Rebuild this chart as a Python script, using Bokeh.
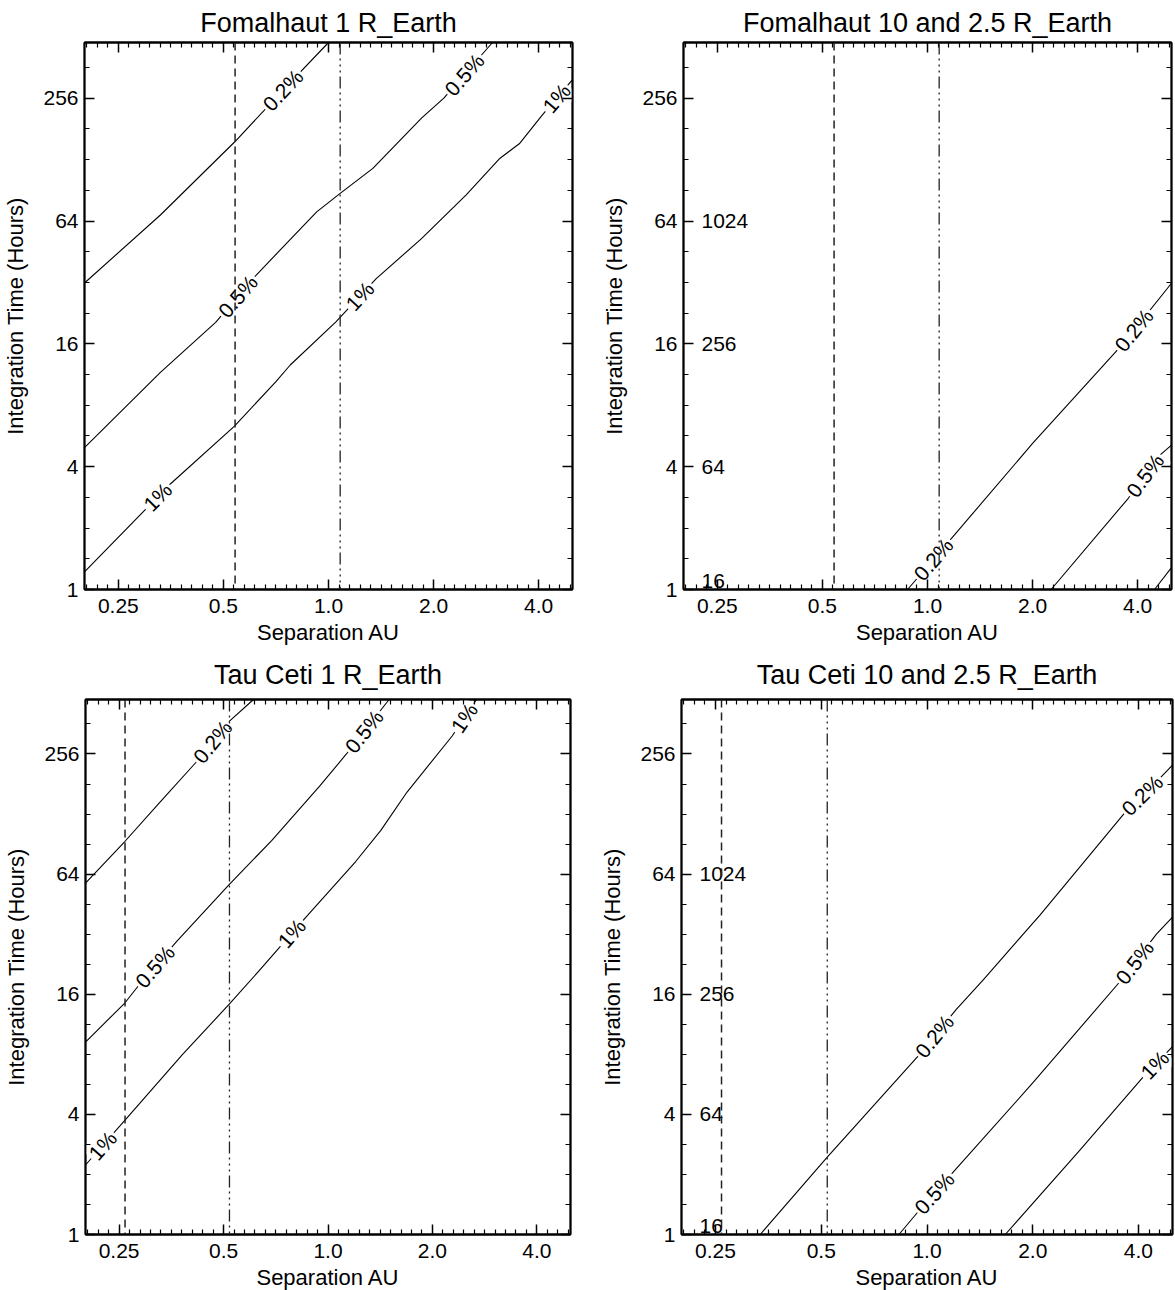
import numpy as np
from bokeh.plotting import figure
from bokeh.models import (Range1d, FixedTicker, CustomJSTickFormatter, LogAxis, Span,
                          CustomLabelingPolicy)
from bokeh.layouts import column, row
from bokeh.embed import file_html
from bokeh.resources import INLINE
from bokeh.core.properties import value

# ---------------- axes ----------------
x_ticks = [0.25, 0.5, 1.0, 2.0, 4.0]
y_ticks = [1, 4, 16, 64, 256]
x_min, x_max = 0.2, 5.0
y_min, y_max = 1.0, 480.0
x_title = "Separation AU"
y_title = "Integration Time (Hours)"

# secondary (10 R_Earth) time labels inside right-hand panels
sec_vals = [1, 4, 16, 64]
sec_labels = ["16", "64", "256", "1024"]

# ---------------- Fomalhaut 1 R_Earth ----------------
fom1_sep_02 = [0.20, 0.33, 0.54, 0.74, 1.00]
fom1_hrs_02 = [31.8, 68.5, 157, 280, 480]
fom1_sep_05 = [0.20, 0.33, 0.475, 0.62, 0.925, 1.08, 1.34, 1.85, 2.14, 2.95]
fom1_hrs_05 = [4.96, 11.6, 20.4, 34.7, 71, 87.5, 116, 205, 256, 480]
fom1_sep_1 = [0.20, 0.353, 0.537, 0.705, 0.777, 1.05, 1.37, 1.85, 2.48, 3.1, 3.52, 4.1, 5.0]
fom1_hrs_1 = [1.22, 3.3, 6.3, 10.4, 12.6, 20.5, 33.4, 52.6, 86, 130, 153, 212, 316]
fom1_lab_02 = [0.74]
fom1_lab_05 = [0.55, 2.45]
fom1_lab_1 = [0.324, 1.23, 4.5]

# ---------------- Fomalhaut 10 and 2.5 R_Earth ----------------
fom10_sep_02 = [0.877, 1.21, 2.0, 3.63, 5.0]
fom10_hrs_02 = [1.0, 1.9, 5.2, 16, 31.7]
fom10_sep_05 = [2.26, 3.76, 4.64, 5.0]
fom10_hrs_05 = [1.0, 2.8, 4.57, 5.1]
fom10_sep_1 = [4.47, 5.0]
fom10_hrs_1 = [1.0, 1.28]
fom10_lab_02 = [1.04, 3.9]
fom10_lab_05 = [4.2]
fom10_lab_1 = []

# ---------------- Tau Ceti 1 R_Earth ----------------
tau1_sep_02 = [0.20, 0.26, 0.328, 0.416, 0.52, 0.61]
tau1_hrs_02 = [57.6, 93.5, 147, 232, 374, 480]
tau1_sep_05 = [0.20, 0.26, 0.286, 0.367, 0.518, 0.689, 0.95, 1.13, 1.5]
tau1_hrs_05 = [9.2, 14.5, 17.9, 29.5, 56.5, 94.5, 178, 256, 480]
tau1_sep_1 = [0.20, 0.26, 0.381, 0.52, 0.627, 0.864, 1.2, 1.42, 1.69, 2.28, 2.68]
tau1_hrs_1 = [2.23, 3.74, 8.0, 14.3, 20.6, 39, 73.8, 106, 165, 315, 480]
tau1_lab_02 = [0.465]
tau1_lab_05 = [0.317, 1.27]
tau1_lab_1 = [0.224, 0.786, 2.47]

# ---------------- Tau Ceti 10 and 2.5 R_Earth ----------------
tau10_sep_02 = [0.335, 0.52, 0.96, 1.21, 1.45, 2.1, 3.71, 4.62, 5.0]
tau10_hrs_02 = [1.0, 2.44, 8.1, 13.4, 19.0, 40, 134, 195, 225]
tau10_sep_05 = [0.832, 0.96, 1.21, 2.0, 3.57, 4.5, 5.0]
tau10_hrs_05 = [1.0, 1.35, 2.13, 5.75, 18.8, 32, 39]
tau10_sep_1 = [1.67, 2.69, 4.14, 5.0]
tau10_hrs_1 = [1.0, 2.58, 6.2, 8.75]
tau10_lab_02 = [1.05, 4.1]
tau10_lab_05 = [1.05, 3.9]
tau10_lab_1 = [4.45]

# vertical reference separations
fom_inner, fom_outer = 0.54, 1.08
tau_inner, tau_outer = 0.26, 0.52

FONT = "Liberation Sans"
x_minor = [0.25 * 2 ** (k / 10) for k in range(-3, 44) if k % 10 != 0]
y_minor = [2 ** (k / 2) for k in range(1, 18) if k % 4 != 0]

xfmt = "return tick >= 1 ? tick.toFixed(1) : tick.toString();"
yfmt = "return tick.toFixed(0);"


def style_axis(ax, ticks, minor, fmt, show):
    ax.ticker = FixedTicker(ticks=ticks, minor_ticks=minor)
    ax.formatter = CustomJSTickFormatter(code=fmt)
    ax.major_tick_in = 10
    ax.major_tick_out = 0
    ax.minor_tick_in = 5
    ax.minor_tick_out = 0
    ax.axis_line_width = 1.8
    ax.axis_line_color = "black"
    ax.major_tick_line_width = 1.5
    ax.minor_tick_line_width = 1.2
    ax.major_tick_line_color = "black"
    ax.minor_tick_line_color = "black"
    ax.major_label_text_font = FONT
    ax.major_label_text_color = "black"
    if show:
        ax.major_label_text_font_size = "21px"
    else:
        ax.major_label_text_font_size = "0px"
        ax.major_label_policy = CustomLabelingPolicy(code="return [];")
        ax.major_label_standoff = 0
    ax.axis_label_text_font = FONT
    ax.axis_label_text_font_size = "22px"
    ax.axis_label_text_font_style = "normal"
    ax.axis_label_text_color = "black"


def make_panel(title, fw, fh, bl, bt, br, bb, tstand, inner, outer, contours, secondary):
    p = figure(x_axis_type="log", y_axis_type="log",
               x_range=Range1d(x_min, x_max), y_range=Range1d(y_min, y_max),
               frame_width=fw, frame_height=fh,
               min_border_left=bl, min_border_top=bt,
               min_border_right=br, min_border_bottom=bb,
               toolbar_location=None, output_backend="svg", title=title)
    p.xgrid.visible = False
    p.ygrid.visible = False
    p.outline_line_color = "black"
    p.outline_line_width = 1.8
    p.title.text_font = FONT
    p.title.text_font_size = "27px"
    p.title.text_font_style = "normal"
    p.title.text_color = "black"
    p.title.align = "center"
    p.title.standoff = tstand

    style_axis(p.xaxis[0], x_ticks, x_minor, xfmt, True)
    style_axis(p.yaxis[0], y_ticks, y_minor, yfmt, True)
    p.xaxis[0].axis_label = x_title
    p.yaxis[0].axis_label = y_title
    p.xaxis[0].major_label_standoff = 9
    p.xaxis[0].axis_label_standoff = 4
    p.yaxis[0].major_label_standoff = 6
    p.yaxis[0].axis_label_standoff = 12

    top = LogAxis()
    style_axis(top, x_ticks, x_minor, xfmt, False)
    p.add_layout(top, "above")
    right = LogAxis()
    style_axis(right, y_ticks, y_minor, yfmt, False)
    p.add_layout(right, "right")

    px = fw / np.log2(x_max / x_min)
    py = fh / np.log2(y_max / y_min)

    for sep, hrs, labs, txt in contours:
        p.line(sep, hrs, line_color="black", line_width=1.1, line_join="round")
        if not labs:
            continue
        lx = np.log2(sep)
        ly = np.log2(hrs)
        xs, ys, angs = [], [], []
        for xv in labs:
            l = np.log2(xv)
            y0 = np.interp(l - 0.12, lx, ly)
            y1 = np.interp(l + 0.12, lx, ly)
            slope = (y1 - y0) / 0.24
            xs.append(xv)
            ys.append(2 ** np.interp(l, lx, ly))
            angs.append(float(np.arctan2(slope * py, px)))
        p.text(x=xs, y=ys, text=[txt] * len(xs), angle=angs,
               text_align="center", text_baseline="middle",
               text_font=value(FONT), text_font_size="21px", text_color="black",
               background_fill_color="white", padding=2)

    if secondary:
        p.text(x=[x_min] * (len(sec_vals) - 1), y=sec_vals[1:], text=sec_labels[1:],
               x_offset=18, text_align="left", text_baseline="middle",
               text_font=value(FONT), text_font_size="21px", text_color="black")
        p.text(x=[x_min], y=sec_vals[:1], text=sec_labels[:1],
               x_offset=18, y_offset=-2, text_align="left", text_baseline="bottom",
               text_font=value(FONT), text_font_size="21px", text_color="black")

    p.add_layout(Span(location=inner, dimension="height", line_color="#222222",
                      line_width=1.5, line_dash="8 5"))
    p.add_layout(Span(location=outer, dimension="height", line_color="#222222",
                      line_width=1.3, line_dash="12 4 2 4 2 4 2 4"))
    return p


p1 = make_panel("Fomalhaut 1 R_Earth", 488, 547, 82, 41, 27, 56, 10, fom_inner, fom_outer,
                [(fom1_sep_02, fom1_hrs_02, fom1_lab_02, "0.2%"),
                 (fom1_sep_05, fom1_hrs_05, fom1_lab_05, "0.5%"),
                 (fom1_sep_1, fom1_hrs_1, fom1_lab_1, "1%")], False)
p2 = make_panel("Fomalhaut 10 and 2.5 R_Earth", 488, 547, 78, 41, 2, 56, 10, fom_inner, fom_outer,
                [(fom10_sep_02, fom10_hrs_02, fom10_lab_02, "0.2%"),
                 (fom10_sep_05, fom10_hrs_05, fom10_lab_05, "0.5%"),
                 (fom10_sep_1, fom10_hrs_1, fom10_lab_1, "1%")], True)
p3 = make_panel("Tau Ceti 1 R_Earth", 485, 535, 85, 50, 27, 50, 20, tau_inner, tau_outer,
                [(tau1_sep_02, tau1_hrs_02, tau1_lab_02, "0.2%"),
                 (tau1_sep_05, tau1_hrs_05, tau1_lab_05, "0.5%"),
                 (tau1_sep_1, tau1_hrs_1, tau1_lab_1, "1%")], False)
p4 = make_panel("Tau Ceti 10 and 2.5 R_Earth", 491, 535, 75, 50, 2, 50, 20, tau_inner, tau_outer,
                [(tau10_sep_02, tau10_hrs_02, tau10_lab_02, "0.2%"),
                 (tau10_sep_05, tau10_hrs_05, tau10_lab_05, "0.5%"),
                 (tau10_sep_1, tau10_hrs_1, tau10_lab_1, "1%")], True)

layout = column(row(p1, p2), row(p3, p4))
open("out.html", "w").write(file_html(layout, INLINE, title="Integration time contours"))
